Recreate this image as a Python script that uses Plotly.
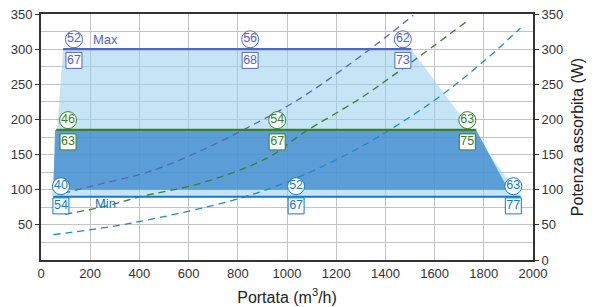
import plotly.graph_objects as go

# ---- data ----
x_ticks = [0, 200, 400, 600, 800, 1000, 1200, 1400, 1600, 1800, 2000]
y_left_ticks = [50, 100, 150, 200, 250, 300, 350]
y_right_ticks = [0, 50, 100, 150, 200, 250, 300, 350]

zone_max_x = [45, 90, 1505, 1950]
zone_max_y = [90, 300, 300, 90]
zone_mid_x = [50, 57, 1769, 1900]
zone_mid_y = [100, 185, 185, 100]

line_max_x = [90, 1505]
line_max_y = [300, 300]
line_mid_x = [62, 1769]
line_mid_y = [185, 185]
line_min_x = [50, 1950]
line_min_y = [90, 90]

curve_max_x = [90, 240, 443, 647, 838, 1054, 1326, 1513]
curve_max_y = [95, 108, 126, 155, 188, 230, 297, 348]
curve_mid_x = [98, 268, 403, 647, 919, 1067, 1298, 1473, 1733]
curve_mid_y = [65, 77, 90, 109, 145, 181, 230, 273, 340]
curve_min_x = [50, 375, 810, 1027, 1285, 1595, 1814, 1949]
curve_min_y = [36, 53, 88, 115, 158, 226, 287, 330]

lab_max_x = [134, 850, 1471]
lab_max_circ = ["52", "56", "62"]
lab_max_box = ["67", "68", "73"]
lab_mid_x = [110, 960, 1733]
lab_mid_circ = ["46", "54", "63"]
lab_mid_box = ["63", "67", "75"]
lab_min_x = [81, 1037, 1920]
lab_min_circ = ["40", "52", "63"]
lab_min_box = ["54", "67", "77"]

circ_y = {"max": 314, "mid": 199, "min": 105}
box_y = {"max": 284, "mid": 168, "min": 77}

C_MAX = "#5266c4"
C_MID = "#3a7f2e"
C_MIN = "#1878c4"
C_MIN_DASH = "#1a8ad6"
FONT = "Liberation Sans, Arial, sans-serif"

fig = go.Figure()

fig.add_trace(go.Scatter(x=zone_max_x, y=zone_max_y, fill="toself", mode="none",
                         fillcolor="rgba(150,205,238,0.55)", hoverinfo="skip"))
fig.add_trace(go.Scatter(x=zone_mid_x, y=zone_mid_y, fill="toself", mode="none",
                         fillcolor="rgba(72,144,208,0.85)", hoverinfo="skip"))

for cx, cy, col in [(curve_max_x, curve_max_y, C_MAX), (curve_mid_x, curve_mid_y, C_MID),
                    (curve_min_x, curve_min_y, C_MIN_DASH)]:
    fig.add_trace(go.Scatter(x=cx, y=cy, mode="lines", line=dict(color=col, width=1.3, dash="7px,5px", shape="spline")))

for lx, ly, col in [(line_max_x, line_max_y, C_MAX), (line_mid_x, line_mid_y, C_MID),
                    (line_min_x, line_min_y, C_MIN)]:
    fig.add_trace(go.Scatter(x=lx, y=ly, mode="lines", line=dict(color=col, width=2.2)))

for key, lx, circ, box, col in [("max", lab_max_x, lab_max_circ, lab_max_box, C_MAX),
                                ("mid", lab_mid_x, lab_mid_circ, lab_mid_box, C_MID),
                                ("min", lab_min_x, lab_min_circ, lab_min_box, C_MIN)]:
    fig.add_trace(go.Scatter(x=lx, y=[circ_y[key]] * len(lx), mode="markers+text", text=circ,
                             textposition="middle center",
                             textfont=dict(family=FONT, size=12.5, color=col),
                             marker=dict(symbol="circle", size=17, color="white", line=dict(color=col, width=1))))
    fig.add_trace(go.Scatter(x=lx, y=[box_y[key]] * len(lx), mode="markers+text", text=box,
                             textposition="middle center",
                             textfont=dict(family=FONT, size=12.5, color=col),
                             marker=dict(symbol="square", size=16, color="white", line=dict(color=col, width=1))))

fig.add_annotation(x=205, y=circ_y["max"], text="Max", showarrow=False, xanchor="left",
                   font=dict(family=FONT, size=13, color=C_MAX))
fig.add_annotation(x=210, y=box_y["min"] + 3, text="Min", showarrow=False, xanchor="left",
                   font=dict(family=FONT, size=13, color=C_MIN))

# invisible trace to activate right axis
fig.add_trace(go.Scatter(x=[0], y=[0], yaxis="y2", mode="markers", marker=dict(opacity=0), hoverinfo="skip"))

axis_common = dict(showline=True, linecolor="#333333", linewidth=2, automargin=False,
                   ticklabeloverflow="allow",
                   tickfont=dict(family=FONT, size=13, color="#333333"), zeroline=False)

# page body has an 8px default margin, so the figure is shrunk and shifted accordingly
fig.update_layout(
    width=590, height=299,
    margin=dict(l=33, r=65, t=6, b=47),
    plot_bgcolor="white", paper_bgcolor="white",
    showlegend=False,
    xaxis=dict(range=[0, 2000], tickvals=x_ticks, showgrid=True, gridcolor="#c4c4c4", gridwidth=1,
               mirror=True, ticks="", title=dict(text="Portata (m<sup>3</sup>/h)", standoff=12,
               font=dict(family=FONT, size=16, color="#222222")), **axis_common),
    yaxis=dict(range=[0, 350], tickvals=y_left_ticks, showgrid=True, gridcolor="#c4c4c4", gridwidth=1,
               ticks="outside", ticklen=4, tickcolor="#333333",
               minor=dict(dtick=25, showgrid=True, gridcolor="#c4c4c4", gridwidth=1), **axis_common),
    yaxis2=dict(range=[0, 350], tickvals=y_right_ticks, overlaying="y", side="right", showgrid=False,
                ticks="outside", ticklen=4, tickcolor="#333333",
                title=dict(text="Potenza assorbita (W)", standoff=9,
                           font=dict(family=FONT, size=16, color="#222222")), **axis_common),
)

fig.write_html("out.html")
